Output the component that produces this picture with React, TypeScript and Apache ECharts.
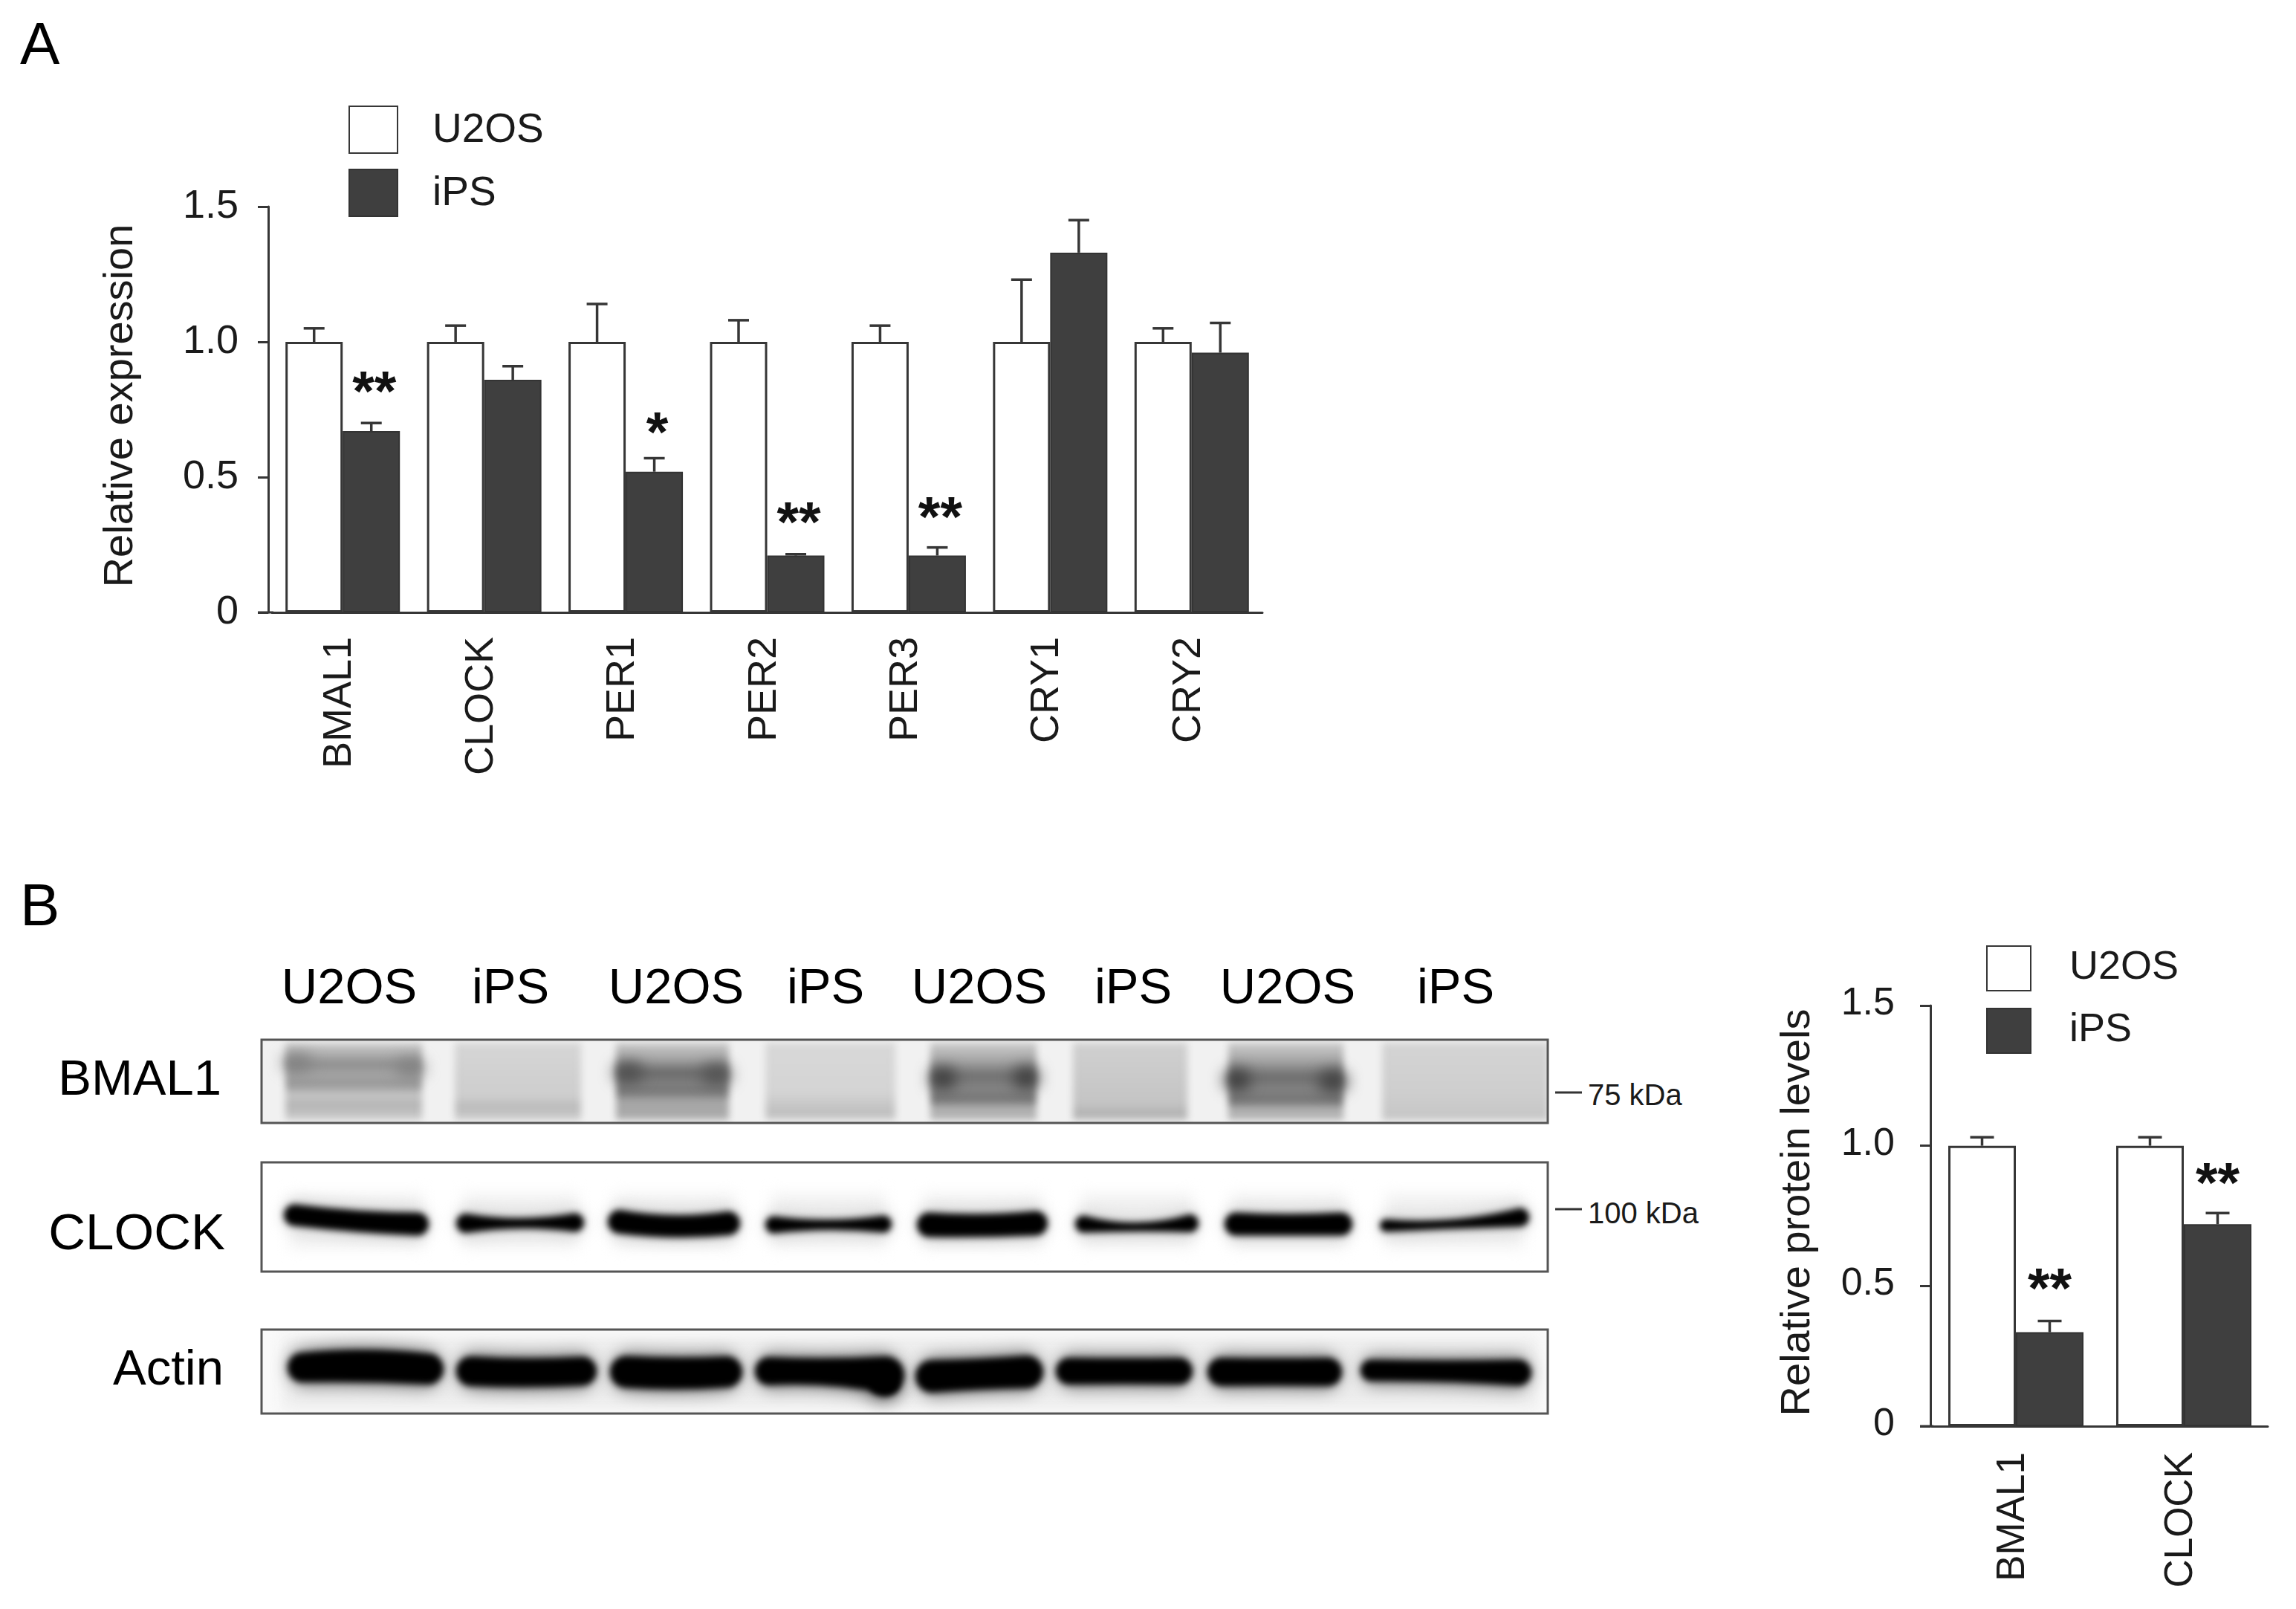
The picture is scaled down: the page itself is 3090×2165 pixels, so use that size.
import React, { useEffect, useRef } from "react";
import * as echarts from "echarts";

const FONT = "'Liberation Sans', Arial, sans-serif";
const INK = "#1a1a1a";
const DARK = "#3f3f3f";
const EDGE = "#363636";

// Panel A
const genesA = ["BMAL1", "CLOCK", "PER1", "PER2", "PER3", "CRY1", "CRY2"];
const u2osA = [1, 1, 1, 1, 1, 1, 1];
const u2osErrTopA = [1.05, 1.06, 1.14, 1.08, 1.06, 1.23, 1.05];
const ipsA = [0.67, 0.86, 0.52, 0.21, 0.21, 1.33, 0.96];
const ipsErrTopA = [0.7, 0.91, 0.57, 0.215, 0.24, 1.45, 1.07];
const starGenesA = ["BMAL1", "PER1", "PER2", "PER3"];
const starLevelsA = [0.84, 0.69, 0.357, 0.378];
const starTextsA = ["**", "*", "**", "**"];

// Panel B
const genesB = ["BMAL1", "CLOCK"];
const u2osB = [1, 1];
const u2osErrTopB = [1.03, 1.03];
const ipsB = [0.335, 0.72];
const ipsErrTopB = [0.375, 0.76];
const starGenesB = ["BMAL1", "CLOCK"];
const starLevelsB = [0.514, 0.89];
const starTextsB = ["**", "**"];

const yTicks = { min: 0, max: 1.5, interval: 0.5 };
const laneLabels = ["U2OS", "iPS", "U2OS", "iPS", "U2OS", "iPS", "U2OS", "iPS"];
const laneCenters = [470, 687, 910, 1111, 1318, 1525, 1733, 1959];

// Western blot picture.
// Tapered band: [x0, yLeft, yMid, x1, yRight, widthLeft, widthMid, widthRight]
type Taper = [number, number, number, number, number, number, number, number];
const clockBands: Taper[] = [
  [382, 1635, 1643, 577, 1647, 24, 24, 26],
  [614, 1646, 1646, 786, 1645, 21, 9, 20],
  [818, 1644, 1650, 996, 1646, 27, 25, 27],
  [1030, 1648, 1648, 1200, 1647, 18, 9, 18],
  [1234, 1648, 1649, 1410, 1646, 28, 26, 28],
  [1447, 1647, 1651, 1613, 1646, 18, 7, 19],
  [1648, 1647, 1648, 1820, 1647, 26, 24, 26],
  [1857, 1649, 1647, 2058, 1638, 12, 8, 20],
];
const actinBands: Taper[] = [
  [387, 1840, 1838, 597, 1842, 34, 38, 36],
  [614, 1845, 1847, 803, 1845, 34, 33, 33],
  [821, 1846, 1848, 999, 1846, 37, 37, 36],
  [1016, 1845, 1846, 1217, 1850, 32, 31, 44],
  [1232, 1852, 1849, 1404, 1846, 38, 36, 38],
  [1421, 1845, 1845, 1605, 1845, 30, 29, 30],
  [1625, 1846, 1846, 1806, 1846, 32, 31, 32],
  [1831, 1844, 1845, 2061, 1847, 23, 23, 29],
];
// Extra lobe at the lower right of the fourth actin lane: [x, y, radiusX, radiusY]
const actinLobes: [number, number, number, number][] = [[1190, 1864, 20, 15]];
// BMAL1 lanes: [x0, x1, vertical grey stops as [y, grey level]]
const bmalLanes: [number, number, [number, number][]][] = [
  [384, 568, [[1403, 208], [1420, 170], [1432, 142], [1445, 164], [1460, 152], [1473, 198], [1488, 180], [1505, 204]]],
  [612, 782, [[1403, 214], [1450, 208], [1475, 206], [1490, 186], [1505, 205]]],
  [829, 981, [[1403, 204], [1425, 164], [1443, 104], [1456, 126], [1470, 120], [1482, 168], [1492, 166], [1505, 176]]],
  [1030, 1205, [[1403, 216], [1470, 212], [1498, 190], [1505, 205]]],
  [1252, 1395, [[1403, 204], [1425, 170], [1447, 112], [1465, 132], [1480, 116], [1491, 176], [1507, 182]]],
  [1444, 1598, [[1403, 208], [1460, 200], [1485, 196], [1498, 178], [1507, 190]]],
  [1653, 1808, [[1403, 204], [1425, 170], [1449, 108], [1465, 130], [1482, 116], [1492, 176], [1507, 182]]],
  [1860, 2084, [[1403, 212], [1470, 206], [1505, 198]]],
];
// BMAL1 dark lane ends: [x, y, radiusX, radiusY, colour]
const bmalSpots: [number, number, number, number, string][] = [
  [400, 1430, 20, 12, "#808080"],
  [552, 1437, 20, 12, "#808080"],
  [846, 1443, 20, 14, "#4e4e4e"],
  [964, 1446, 20, 14, "#525252"],
  [1269, 1451, 18, 15, "#3c3c3c"],
  [1381, 1450, 18, 15, "#3c3c3c"],
  [1665, 1453, 18, 15, "#3c3c3c"],
  [1794, 1455, 20, 15, "#404040"],
];

const blotX = 351;
const blotY = 1399;
const blotW = 1734;
const blotH = 503;

function makeBlot(): string {
  const c = document.createElement("canvas");
  c.width = blotW;
  c.height = blotH;
  const g = c.getContext("2d");
  if (!g) return "";
  g.fillStyle = "#fff";
  g.fillRect(0, 0, blotW, blotH);
  g.translate(-blotX, -blotY);

  const taper = (b: Taper, extra: number, col: string) => {
    const [x0, yl, ym, x1, yr, wl0, wm0, wr0] = b;
    const wl = wl0 + extra;
    const wm = wm0 + extra;
    const wr = wr0 + extra;
    const xa = x0 + wl / 2;
    const xb = x1 - wr / 2;
    const mid = (xa + xb) / 2;
    const ctrl = (m: number, p: number, q: number) => 2 * m - (p + q) / 2;
    g.fillStyle = col;
    g.beginPath();
    g.moveTo(xa, yl - wl / 2);
    g.quadraticCurveTo(mid, ctrl(ym - wm / 2, yl - wl / 2, yr - wr / 2), xb, yr - wr / 2);
    g.arc(xb, yr, wr / 2, -Math.PI / 2, Math.PI / 2);
    g.quadraticCurveTo(mid, ctrl(ym + wm / 2, yl + wl / 2, yr + wr / 2), xa, yl + wl / 2);
    g.arc(xa, yl, wl / 2, Math.PI / 2, (3 * Math.PI) / 2);
    g.closePath();
    g.fill();
  };
  const oval = (x: number, y: number, rx: number, ry: number, col: string) => {
    g.fillStyle = col;
    g.beginPath();
    g.ellipse(x, y, rx, ry, 0, 0, Math.PI * 2);
    g.fill();
  };

  // BMAL1
  g.save();
  g.beginPath();
  g.rect(352, 1399, 1732, 113);
  g.clip();
  g.fillStyle = "#f1f1f1";
  g.fillRect(352, 1399, 1732, 113);
  g.filter = "blur(5px)";
  bmalLanes.forEach(([x0, x1, stops]) => {
    const grad = g.createLinearGradient(0, 1403, 0, 1507);
    stops.forEach(([y, v]) => grad.addColorStop((y - 1403) / 104, `rgb(${v},${v},${v})`));
    g.fillStyle = grad;
    g.fillRect(x0, 1403, x1 - x0, 104);
  });
  g.filter = "blur(10px)";
  bmalSpots.forEach(([x, y, rx, ry, col]) => oval(x, y, rx, ry, col));
  g.restore();

  // CLOCK
  g.save();
  g.beginPath();
  g.rect(352, 1564, 1732, 147);
  g.clip();
  g.filter = "blur(10px)";
  clockBands.forEach((b) => {
    g.fillStyle = "#efefef";
    g.fillRect(b[0] + 8, 1608, b[3] - b[0] - 16, 70);
  });
  clockBands.forEach((b) => taper(b, 10, "#c4c4c4"));
  g.filter = "blur(4px)";
  clockBands.forEach((b) => taper(b, 5, "#000"));
  g.restore();

  // Actin
  g.save();
  g.beginPath();
  g.rect(352, 1789, 1732, 113);
  g.clip();
  g.fillStyle = "#fafafa";
  g.fillRect(352, 1789, 1732, 113);
  g.filter = "blur(10px)";
  g.fillStyle = "#ececec";
  g.fillRect(380, 1800, 1690, 95);
  actinBands.forEach((b) => taper(b, 20, "#8c8c8c"));
  actinLobes.forEach(([x, y, rx, ry]) => oval(x, y, rx + 6, ry + 8, "#8c8c8c"));
  g.filter = "blur(4px)";
  actinBands.forEach((b) => taper(b, 6, "#000"));
  actinLobes.forEach(([x, y, rx, ry]) => oval(x, y, rx, ry, "#000"));
  g.restore();
  return c.toDataURL("image/png");
}

const text = (
  t: string,
  x: number,
  y: number,
  size: number,
  align = "center",
  fill = "#000"
) => ({
  type: "text",
  x,
  y,
  z: 10,
  style: {
    text: t,
    fill,
    fontSize: size,
    fontFamily: FONT,
    align,
    textAlign: align,
    verticalAlign: "middle",
    textVerticalAlign: "middle",
  },
});

const errorSeries = (
  name: string,
  grid: number,
  values: number[],
  tops: number[],
  sign: number,
  barWidth: number,
  cap: number
) => ({
  type: "custom",
  name,
  xAxisIndex: grid,
  yAxisIndex: grid,
  z: 1,
  encode: { x: 0, y: [1, 2] },
  data: values.map((v, i) => [i, v, tops[i]]),
  renderItem: (_p: any, api: any) => {
    const lo = api.coord([api.value(0), api.value(1)]);
    const hi = api.coord([api.value(0), api.value(2)]);
    const x = lo[0] + (sign * barWidth) / 2;
    const st = { stroke: EDGE, lineWidth: 3.5, fill: "none" };
    return {
      type: "group",
      children: [
        { type: "line", shape: { x1: x, y1: lo[1], x2: x, y2: hi[1] }, style: st },
        { type: "line", shape: { x1: x - cap / 2, y1: hi[1], x2: x + cap / 2, y2: hi[1] }, style: st },
      ],
    };
  },
});

const starSeries = (
  name: string,
  grid: number,
  cats: string[],
  levels: number[],
  labels: string[],
  barWidth: number,
  size: number,
  dx: number
) => ({
  type: "custom",
  name,
  xAxisIndex: grid,
  yAxisIndex: grid,
  z: 5,
  encode: { x: 0, y: 1 },
  data: cats.map((c, i) => [c, levels[i], labels[i]]),
  renderItem: (p: any, api: any) => {
    const pt = api.coord([api.value(0), api.value(1)]);
    return {
      type: "text",
      x: pt[0] + barWidth / 2 + dx,
      y: pt[1] + size * 0.1,
      style: {
        text: labels[p.dataIndex],
        fill: "#111",
        fontSize: size,
        fontFamily: FONT,
        fontWeight: "bold",
        align: "center",
        textAlign: "center",
        verticalAlign: "middle",
        textVerticalAlign: "middle",
      },
    };
  },
});

const yAxis = (
  grid: number,
  name: string,
  offset: number,
  gap: number,
  margin: number,
  size: number,
  lift: number,
  nameShift: number
) => ({
  type: "value",
  gridIndex: grid,
  min: yTicks.min,
  max: yTicks.max,
  interval: yTicks.interval,
  offset,
  name,
  nameLocation: "middle",
  nameRotate: 90,
  nameGap: gap,
  nameTextStyle: { fontSize: 56, fontFamily: FONT, color: INK, padding: [0, 0, 0, nameShift] },
  splitLine: { show: false },
  axisLine: { show: true, lineStyle: { color: EDGE, width: 3 } },
  axisTick: { show: true, length: 14, lineStyle: { color: EDGE, width: 3 } },
  axisLabel: {
    margin,
    formatter: (v: number) => `{a|${v === 0 ? "0" : v.toFixed(1)}}`,
    rich: { a: { fontSize: size, fontFamily: FONT, color: INK, padding: [0, 0, lift * 2, 0] } },
  },
});

const xAxis = (grid: number, cats: string[], margin: number, size: number, shift: number) => ({
  type: "category",
  gridIndex: grid,
  data: cats,
  axisLine: { show: true, onZero: false, lineStyle: { color: EDGE, width: 3 } },
  axisTick: { show: false },
  axisLabel: {
    rotate: 90,
    margin,
    interval: 0,
    formatter: (v: string) => `{a|${v}}`,
    rich: { a: { fontSize: size, fontFamily: FONT, color: INK, padding: [0, 0, shift * 2, 0] } },
  },
});

const bars = (name: string, grid: number, values: number[], barWidth: number) => ({
  type: "bar",
  name,
  xAxisIndex: grid,
  yAxisIndex: grid,
  data: values,
  barWidth,
  barGap: "0%",
  z: 3,
  itemStyle:
    name === "U2OS"
      ? { color: "#fff", borderColor: EDGE, borderWidth: 3 }
      : { color: DARK, borderColor: "#333", borderWidth: 2 },
});

const legend = (
  left: number,
  top: number,
  w: number,
  h: number,
  gap: number,
  pad: number,
  lift: number,
  size: number
) => ({
  show: true,
  orient: "vertical",
  left,
  top,
  padding: 0,
  icon: "rect",
  itemWidth: w,
  itemHeight: h,
  itemGap: gap,
  selectedMode: false,
  data: ["U2OS", "iPS"],
  formatter: (n: string) => `{a|${n}}`,
  textStyle: {
    rich: { a: { fontSize: size, fontFamily: FONT, color: INK, padding: [0, 0, lift * 2, pad] } },
  },
});

export default function App() {
  const ref = useRef<HTMLDivElement>(null);
  useEffect(() => {
    if (!ref.current) return;
    const chart = echarts.init(ref.current, undefined, { renderer: "svg" });
    const frameStyle = { stroke: "#555", lineWidth: 3, fill: "none" };
    const axisStyle = { stroke: EDGE, lineWidth: 3 };
    chart.setOption({
      animation: false,
      backgroundColor: "#fff",
      grid: [
        { left: 366, top: 278, width: 1333, height: 546 },
        { left: 2600, top: 1353, width: 452, height: 566 },
      ],
      legend: [legend(469, 142, 65, 63, 20, 42, 3, 55), legend(2673, 1271, 59, 60, 21, 47, 5, 54)],
      xAxis: [xAxis(0, genesA, 33, 54, 8), xAxis(1, genesB, 35, 53, 8)],
      yAxis: [
        yAxis(0, "Relative expression", 5, 175, 40, 54, 4, 10),
        yAxis(1, "Relative protein levels", 2, 155, 48, 52, 6, 9),
      ],
      series: [
        errorSeries("U2OS error A", 0, u2osA, u2osErrTopA, -1, 77, 28),
        errorSeries("iPS error A", 0, ipsA, ipsErrTopA, 1, 77, 28),
        bars("U2OS", 0, u2osA, 77),
        bars("iPS", 0, ipsA, 77),
        starSeries("Significance A", 0, starGenesA, starLevelsA, starTextsA, 77, 76, 4),
        errorSeries("U2OS error B", 1, u2osB, u2osErrTopB, -1, 91, 32),
        errorSeries("iPS error B", 1, ipsB, ipsErrTopB, 1, 91, 32),
        bars("U2OS", 1, u2osB, 91),
        bars("iPS", 1, ipsB, 91),
        starSeries("Significance B", 1, starGenesB, starLevelsB, starTextsB, 91, 76, 0),
      ],
      graphic: [
        { type: "image", z: 1, x: blotX, y: blotY, style: { image: makeBlot(), x: 0, y: 0, width: blotW, height: blotH } },
        { type: "rect", z: 2, shape: { x: 352, y: 1399, width: 1731, height: 112 }, style: frameStyle },
        { type: "rect", z: 2, shape: { x: 352, y: 1564, width: 1731, height: 147 }, style: frameStyle },
        { type: "rect", z: 2, shape: { x: 352, y: 1789, width: 1731, height: 113 }, style: frameStyle },
        { type: "line", z: 2, shape: { x1: 2093, y1: 1470, x2: 2129, y2: 1470 }, style: { stroke: "#333", lineWidth: 3 } },
        { type: "line", z: 2, shape: { x1: 2093, y1: 1627, x2: 2129, y2: 1627 }, style: { stroke: "#333", lineWidth: 3 } },
        { type: "line", z: 2, shape: { x1: 347, y1: 824, x2: 368, y2: 824 }, style: axisStyle },
        { type: "line", z: 2, shape: { x1: 2584, y1: 1919, x2: 2602, y2: 1919 }, style: axisStyle },
        text("A", 27, 58, 80, "left"),
        text("B", 27, 1217, 80, "left"),
        ...laneLabels.map((l, i) => text(l, laneCenters[i], 1326, 67)),
        text("BMAL1", 298, 1449, 67, "right"),
        text("CLOCK", 303, 1657, 69, "right"),
        text("Actin", 301, 1839, 67, "right"),
        text("75 kDa", 2137, 1473, 40, "left", INK),
        text("100 kDa", 2137, 1632, 40, "left", INK),
      ],
    });
    return () => chart.dispose();
  }, []);
  return (
    <div
      ref={ref}
      style={{ position: "absolute", left: 0, top: 0, width: 3090, height: 2165, background: "#fff" }}
    />
  );
}
